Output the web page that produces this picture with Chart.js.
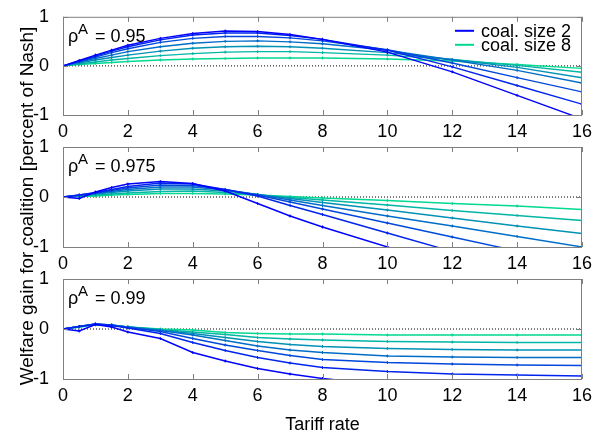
<!DOCTYPE html>
<html>
<head>
<meta charset="utf-8">
<script src="https://cdn.jsdelivr.net/npm/chart.js@4.4.1/dist/chart.umd.min.js"></script>
<style>
  body { margin: 0; background: #fff; }
  #wrap { position: relative; width: 593px; height: 434px; }
  #wrap canvas { position: absolute; left: 0; top: 0; }
</style>
</head>
<body>
<div id="wrap"></div>
<script>
// tariff rates on the x axis (same grid for all panels)
const tariff = [0, 0.5, 1, 1.5, 2, 3, 4, 5, 6, 7, 8, 10, 12, 14, 16];
const coalSizes = [2, 3, 4, 5, 6, 7, 8];
const rhoValues = ['0.95', '0.975', '0.99'];
const legendSizes = [2, 8];

// welfare gain, one row per coalition size (2..8)
const gainRho095 = [
  [0, 0.11, 0.22, 0.32, 0.42, 0.56, 0.66, 0.71, 0.70, 0.64, 0.54, 0.28, -0.12, -0.60, -1.08],
  [0, 0.10, 0.20, 0.30, 0.39, 0.53, 0.63, 0.67, 0.67, 0.62, 0.54, 0.32, -0.02, -0.40, -0.78],
  [0, 0.09, 0.18, 0.27, 0.35, 0.48, 0.56, 0.60, 0.60, 0.57, 0.51, 0.33, 0.06, -0.24, -0.53],
  [0, 0.08, 0.15, 0.22, 0.29, 0.39, 0.46, 0.50, 0.51, 0.49, 0.45, 0.32, 0.12, -0.09, -0.35],
  [0, 0.06, 0.12, 0.17, 0.22, 0.30, 0.36, 0.39, 0.40, 0.39, 0.36, 0.27, 0.13, -0.03, -0.24],
  [0, 0.04, 0.08, 0.12, 0.15, 0.21, 0.25, 0.28, 0.29, 0.29, 0.27, 0.22, 0.13, 0.01, -0.13],
  [0, 0.03, 0.05, 0.07, 0.09, 0.12, 0.14, 0.15, 0.16, 0.16, 0.16, 0.14, 0.10, 0.03, -0.05]
];
const gainRho0975 = [
  [0, -0.03, 0.10, 0.19, 0.26, 0.31, 0.27, 0.12, -0.13, -0.38, -0.60, -1.00, -1.40, -1.80, -2.20],
  [0, 0.04, 0.09, 0.15, 0.21, 0.28, 0.26, 0.15, 0.02, -0.17, -0.35, -0.72, -1.09, -1.46, -1.83],
  [0, 0.04, 0.08, 0.13, 0.18, 0.24, 0.23, 0.15, 0.04, -0.10, -0.24, -0.52, -0.80, -1.08, -1.36],
  [0, 0.03, 0.07, 0.11, 0.15, 0.20, 0.20, 0.14, 0.05, -0.06, -0.17, -0.38, -0.58, -0.79, -1.00],
  [0, 0.03, 0.06, 0.09, 0.12, 0.16, 0.16, 0.12, 0.05, -0.03, -0.11, -0.26, -0.42, -0.58, -0.73],
  [0, 0.02, 0.04, 0.06, 0.08, 0.11, 0.12, 0.09, 0.04, -0.01, -0.06, -0.16, -0.27, -0.37, -0.47],
  [0, 0.01, 0.02, 0.04, 0.05, 0.07, 0.07, 0.06, 0.04, 0.01, -0.02, -0.07, -0.13, -0.18, -0.25]
];
const gainRho099 = [
  [0, -0.04, 0.09, 0.04, -0.06, -0.19, -0.47, -0.64, -0.79, -0.90, -0.99, -1.12, -1.21, -1.28, -1.34],
  [0, 0.05, 0.10, 0.07, 0.02, -0.09, -0.27, -0.43, -0.57, -0.68, -0.77, -0.85, -0.90, -0.92, -0.94],
  [0, 0.05, 0.10, 0.08, 0.03, -0.05, -0.19, -0.32, -0.43, -0.53, -0.61, -0.67, -0.70, -0.72, -0.73],
  [0, 0.05, 0.10, 0.08, 0.04, -0.03, -0.12, -0.23, -0.34, -0.42, -0.47, -0.54, -0.56, -0.57, -0.57],
  [0, 0.05, 0.09, 0.08, 0.04, -0.02, -0.09, -0.17, -0.25, -0.31, -0.35, -0.39, -0.41, -0.42, -0.42],
  [0, 0.04, 0.09, 0.07, 0.04, -0.01, -0.06, -0.11, -0.17, -0.20, -0.22, -0.25, -0.26, -0.27, -0.27],
  [0, 0.04, 0.08, 0.07, 0.04, 0.00, -0.02, -0.07, -0.09, -0.10, -0.10, -0.12, -0.12, -0.12, -0.12]
];

// winter-like colours, coalition size 2 -> 8
const lineColors = ['#0000ff', '#0024ed', '#0048db', '#006dc8', '#0091b6', '#00b6a4', '#00d992'];

const W = 593, H = 434;
const PLOT_L = 63, PLOT_R = 582;
const boxes = [[15, 115], [147, 247], [279, 379]];
const FONT = 'Arial, "Liberation Sans", Helvetica, sans-serif';
const AXIS_GRAY = '#808080';

// frame, inward ticks, rho label, legend, y title
const deco = {
  id: 'deco',
  afterDatasetsDraw(chart, args, opts) {
    const { ctx, chartArea: a, scales: { x, y } } = chart;
    ctx.save();
    ctx.strokeStyle = AXIS_GRAY;
    ctx.lineWidth = 1;
    ctx.strokeRect(a.left + 0.5, a.top + 0.5, a.right - a.left - 1, a.bottom - a.top);
    ctx.beginPath();
    x.ticks.forEach(t => {
      const px = Math.round(x.getPixelForValue(t.value)) + 0.5;
      ctx.moveTo(px, a.bottom); ctx.lineTo(px, a.bottom - 5);
      ctx.moveTo(px, a.top); ctx.lineTo(px, a.top + 5);
    });
    y.ticks.forEach(t => {
      const py = Math.round(y.getPixelForValue(t.value)) + 0.5;
      ctx.moveTo(a.left, py); ctx.lineTo(a.left + 5, py);
      ctx.moveTo(a.right, py); ctx.lineTo(a.right - 5, py);
    });
    ctx.stroke();

    // rho^A = ...
    ctx.fillStyle = '#000';
    ctx.textBaseline = 'alphabetic';
    ctx.textAlign = 'left';
    ctx.font = '18px ' + FONT;
    const bx = a.left + 5, by = a.top + 25;
    ctx.fillText('\u03c1', bx, by);
    ctx.font = '15px ' + FONT;
    ctx.fillText('A', bx + 10, by - 8);
    ctx.font = '18px ' + FONT;
    ctx.fillText('= ' + opts.rho, bx + 27, by);

    if (opts.legend) {
      legendSizes.forEach((s, i) => {
        const k = coalSizes.indexOf(s);
        const ly = a.top + 14 + i * 14;
        ctx.strokeStyle = lineColors[k];
        ctx.lineWidth = 2;
        ctx.beginPath();
        ctx.moveTo(455, ly); ctx.lineTo(474, ly);
        ctx.stroke();
        ctx.fillStyle = '#000';
        ctx.textBaseline = 'middle';
        ctx.fillText('coal. size ' + s, 481, ly + 1);
      });
    }

    if (opts.yTitle) {
      ctx.translate(33, 206);
      ctx.rotate(-Math.PI / 2);
      ctx.textAlign = 'center';
      ctx.textBaseline = 'alphabetic';
      ctx.font = '19px ' + FONT;
      ctx.fillStyle = '#000';
      ctx.fillText('Welfare gain for coalition [percent of Nash]', 0, 0);
    }
    ctx.restore();
  }
};

function makePanel(i, rows) {
  const [top, bottom] = boxes[i];
  const last = i === 2;
  const xHeight = last ? H - bottom : 25;
  const canvas = document.createElement('canvas');
  canvas.width = W;
  canvas.height = H;
  document.getElementById('wrap').appendChild(canvas);

  const datasets = rows.map((row, k) => ({
    label: 'coal. size ' + coalSizes[k],
    data: tariff.map((t, j) => ({ x: t, y: row[j] })),
    borderColor: lineColors[k],
    backgroundColor: lineColors[k],
    borderWidth: 1.4,
    pointStyle: 'cross',
    pointRadius: 1.5,
    pointBorderWidth: 1,
    tension: 0
  }));
  // dotted zero line
  datasets.push({
    label: 'zero',
    data: [{ x: 0, y: 0 }, { x: 16, y: 0 }],
    borderColor: '#000',
    borderWidth: 1,
    borderDash: [1, 2],
    pointRadius: 0
  });

  return new Chart(canvas, {
    type: 'line',
    data: { datasets },
    options: {
      responsive: false,
      animation: false,
      devicePixelRatio: 1,
      layout: { padding: { left: 0, right: W - PLOT_R, top: top, bottom: H - bottom - xHeight } },
      plugins: {
        legend: { display: false },
        tooltip: { enabled: false },
        deco: { rho: rhoValues[i], legend: i === 0, yTitle: i === 1 }
      },
      scales: {
        x: {
          type: 'linear', min: 0, max: 16,
          grid: { display: false },
          border: { display: false },
          ticks: { stepSize: 2, color: '#000', font: { family: FONT, size: 18 }, padding: -2, maxRotation: 0, autoSkip: false },
          title: { display: last, text: 'Tariff rate', color: '#000', font: { family: FONT, size: 18 }, padding: { top: 0, bottom: -2 } },
          afterFit: s => { s.height = xHeight; }
        },
        y: {
          min: -1, max: 1,
          grid: { display: false },
          border: { display: false },
          ticks: { stepSize: 1, color: '#000', font: { family: FONT, size: 18 }, padding: 6 },
          afterFit: s => { s.width = PLOT_L; }
        }
      }
    },
    plugins: [deco]
  });
}

makePanel(0, gainRho095);
makePanel(1, gainRho0975);
makePanel(2, gainRho099);
</script>
</body>
</html>
